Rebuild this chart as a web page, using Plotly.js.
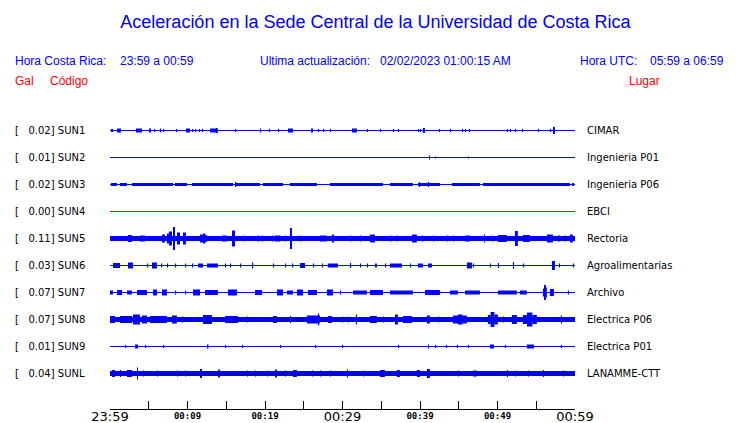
<!DOCTYPE html>
<html><head><meta charset="utf-8">
<script src="https://cdn.plot.ly/plotly-3.0.1.min.js"></script>
<style>html,body{margin:0;padding:0;background:#fff}</style>
</head><body><div id="chart" style="width:740px;height:423px"></div>
<script>
// ---- data ----
const stations = ['SUN1','SUN2','SUN3','SUN4','SUN5','SUN6','SUN7','SUN8','SUN9','SUNL'];
const places = ['CIMAR','Ingenieria P01','Ingenieria P06','EBCI','Rectoria','Agroalimentarias','Archivo','Electrica P06','Electrica P01','LANAMME-CTT'];
const peakGal = ['0.02','0.01','0.02','0.00','0.11','0.03','0.07','0.07','0.01','0.04'];
// background noise half-amplitude (relative units, row half-height = 13.5)
const baseAmp = [0.5,0.5,0.5,0.5,2.5,0.5,0.5,2.5,0.5,2.5];
const traceColors = ['#0000ff','#0000ff','#0000ff','#ff0000','#0000ff','#0000ff','#0000ff','#0000ff','#0000ff','#0000ff'];
// time axis: minutes after 23:59
const tickVals = [0,5,10,15,20,25,30,35,40,45,50,55,60];
const tickLabels = ['23:59','','00:09','','00:19','','00:29','','00:39','','00:49','','00:59'];
const bigTicks = ['23:59','00:29','00:59'];

// events: [start min, end min, half-amplitude]
const sun1Events = [[0.13,0.39,1.5],[0.90,1.42,2],[3.35,4.13,2],[5.03,5.29,2],[5.68,5.83,1.5],[6.45,6.6,2],[6.84,6.99,1.5],[8.51,8.66,1.5],[9.80,10.32,2],[10.58,10.73,1.5],[10.97,11.12,1.5],[11.48,11.63,1.5],[11.87,12.02,1.5],[12.90,13.93,2],[13.67,13.82,2.5],[16.13,16.28,1.5],[19.35,19.5,2],[20.51,20.66,1.5],[21.67,21.82,1.5],[22.96,23.61,2],[25.93,26.19,2],[26.83,26.98,1.5],[27.48,27.63,1.5],[28.38,28.53,1.5],[31.22,31.86,2],[33.15,33.3,1.5],[34.83,34.98,1.5],[36.51,36.66,1.5],[37.15,37.3,1.5],[39.73,39.88,1.5],[39.99,40.14,1.5],[40.38,40.64,2.5],[42.44,42.59,1.5],[43.86,44.01,1.5],[45.41,45.56,1.5],[45.80,45.95,1.5],[46.31,46.46,1.5],[51.21,51.36,1.5],[51.60,51.75,1.5],[52.25,52.4,1.5],[53.15,53.3,1.5],[55.21,55.36,1.5],[56.76,56.91,1.5],[57.15,57.41,3.5]];
const sun2Events = [[41.15,41.3,2],[41.93,42.08,1],[46.18,46.33,1]];
const sun3Events = [[0.13,0.90,1.5],[1.29,2.19,1.5],[2.84,8.13,1.5],[8.39,9.93,1.5],[10.58,15.87,1.5],[16.13,19.35,1.5],[19.74,22.32,1.5],[23.22,26.70,1.5],[28.38,33.54,1.5],[33.54,35.22,1.5],[36.12,39.09,1.5],[39.73,42.57,1.5],[44.12,47.73,1.5],[48.12,59.34,1.5],[59.60,59.86,1.5],[16.13,16.28,2.5],[39.86,40.01,2.5],[41.02,41.17,2.5]];
const sun4Events = [];
const sun5Events = [[2.32,2.84,3.5],[3.87,4.52,3],[6.71,7.10,4],[7.35,7.6,5],[7.6,8.0,7],[8.13,8.39,11.5],[8.64,9.03,6],[9.42,9.80,6],[11.61,12.0,4],[12.0,12.3,5],[12.3,12.51,3.5],[14.45,15.09,3],[15.74,16.13,8],[17.16,17.3,3],[19.09,19.25,3],[19.61,19.75,3],[20.90,21.05,3],[21.29,21.93,3],[22.58,22.72,3],[23.22,23.48,10.5],[24.51,24.65,3],[27.09,27.99,3],[28.64,28.90,4],[30.96,31.1,3],[32.25,32.4,3],[33.54,34.19,4],[36.12,36.27,3],[37.02,37.17,3],[38.96,39.60,4],[40.25,40.4,3],[41.67,41.82,3],[43.47,43.62,3],[44.25,44.4,3],[45.80,46.44,3],[48.25,48.4,4],[49.28,49.43,3],[50.05,51.21,3.5],[52.25,52.63,7.5],[53.28,54.18,3.5],[56.37,57.15,4],[57.79,58.05,3],[58.70,58.85,3],[59.34,59.73,4]];
const sun6Events = [[0.39,1.29,2.5],[2.32,2.97,3],[4.77,4.92,2],[5.42,6.06,3],[6.58,6.73,2],[7.35,7.5,2],[8.39,8.54,2],[9.68,9.83,2],[10.58,10.73,2],[11.35,12.0,2],[12.51,13.93,2],[14.84,14.99,2],[15.48,15.63,2],[16.77,16.92,2],[18.32,18.47,3],[21.03,21.18,2],[22.58,22.73,2],[23.48,23.63,2],[24.51,25.16,2.5],[26.19,26.34,2],[27.35,27.5,2],[28.12,29.41,2],[30.96,31.11,2.5],[32.25,32.4,2],[33.15,33.3,2],[34.19,34.44,2],[35.48,35.63,2],[36.12,37.67,2],[38.7,38.85,2],[39.73,40.38,2],[41.02,41.54,2],[46.05,46.70,3],[46.83,46.98,2],[49.02,49.17,2],[50.05,50.2,2.5],[51.99,52.14,3.5],[53.28,53.43,2],[57.02,57.41,4.5],[57.92,58.07,2],[59.73,59.88,2]];
const sun7Events = [[0.0,0.39,2],[0.90,1.55,2.5],[2.19,2.84,2],[3.48,4.77,2.5],[5.55,6.06,3],[6.71,7.35,3],[8.39,8.54,2],[9.68,9.83,2],[10.71,11.61,3],[12.26,13.93,2.5],[15.22,16.38,3],[18.71,19.61,2.5],[21.54,22.32,3],[22.83,23.61,2],[24.12,24.9,3],[25.54,26.70,2.5],[27.99,28.77,3],[29.67,29.82,2],[31.35,33.15,2],[33.54,35.22,2.5],[36.12,39.09,2],[40.64,42.57,2.5],[43.86,44.89,2],[45.80,47.73,2],[50.05,52.50,2],[52.89,53.79,2],[55.86,56.0,4],[56.0,56.25,7.5],[56.25,56.37,5],[56.76,57.28,3.5],[59.08,59.23,2]];
const sun8Events = [[0.0,0.65,3.5],[1.29,2.84,3.5],[2.97,3.87,5],[4.13,4.77,4],[5.16,7.35,3.5],[8.0,8.64,4],[9.29,9.44,3],[12.0,13.16,4.5],[14.84,16.51,3.5],[17.67,17.82,3],[21.03,21.54,3.5],[23.22,23.37,3.5],[25.41,27.09,4],[26.83,26.98,6],[28.12,28.64,3.5],[29.93,30.08,3],[30.70,30.85,3],[31.73,31.88,5],[33.54,34.44,3.5],[35.22,35.37,3],[36.77,37.15,5],[37.80,38.96,3.5],[40.89,41.28,4],[42.31,42.46,3],[44.25,44.9,4],[44.9,45.5,5],[45.5,46.05,4],[48.76,49.1,4.5],[49.1,49.6,7.5],[49.6,50.05,5],[50.70,50.85,3],[51.86,52.50,4.5],[53.28,53.8,4.5],[53.8,54.5,7],[54.5,55.08,4.5],[58.18,58.33,4]];
const sun9Events = [[1.94,2.09,1.5],[3.23,3.61,2],[4.52,4.67,1.5],[6.84,6.99,1.5],[12.51,12.71,2],[14.84,14.99,1.5],[17.03,17.18,1.5],[21.93,22.08,1.5],[26.45,26.6,1.5],[29.93,30.08,1.5],[37.15,37.3,1.5],[41.02,41.17,2],[41.93,42.08,1.5],[43.34,43.49,1.5],[44.76,44.91,1.5],[46.18,46.33,1.5],[49.02,49.54,2],[50.96,51.11,1.5],[53.79,54.70,2],[58.18,58.33,1.5]];
const sunLEvents = [[0.26,0.65,3.5],[1.29,1.44,3.5],[2.19,2.84,3.5],[3.48,3.61,6],[4.26,4.41,3],[6.06,6.21,3],[8.64,8.79,3],[9.68,9.83,3],[11.61,11.87,4.5],[13.93,14.19,4],[17.67,17.82,3],[18.71,18.86,3],[20.25,20.4,3],[21.29,21.54,4],[22.58,22.73,3],[23.61,24.12,3.5],[26.06,26.21,3],[27.09,27.24,3],[28.38,28.53,3],[30.57,30.72,4],[32.64,32.79,3],[34.83,35.48,3.5],[37.02,37.41,3.5],[39.60,39.99,3.5],[40.89,41.28,4.5],[44.89,45.04,3],[46.83,47.34,3],[51.21,51.36,3.5],[52.25,52.4,3],[53.92,54.07,3],[55.86,56.01,3.5],[58.44,58.59,3]];
const allEvents = [sun1Events,sun2Events,sun3Events,sun4Events,sun5Events,sun6Events,sun7Events,sun8Events,sun9Events,sunLEvents];

// ---- layout geometry ----
const W = 740, H = 423;
const M = {l:110, r:165, t:117, b:14};
const plotW = W - M.l - M.r, plotH = H - M.t - M.b;
const rowH = 27, halfRow = 13.5;
const px2x = px => (px - M.l) / plotW;
const py2y = py => (H - M.b - py) / plotH;

const traces = [];
const layout = {
  width: W, height: H, margin: M,
  paper_bgcolor: '#fff', plot_bgcolor: '#fff',
  showlegend: false, hovermode: false, barmode: 'overlay',
  title: {text: 'Aceleración en la Sede Central de la Universidad de Costa Rica',
    font: {family: 'Liberation Sans, Arial, sans-serif', size: 18, color: '#0000ff'},
    x: 375.5 / W, xanchor: 'center', xref: 'container',
    y: 1 - 22 / H, yanchor: 'middle', yref: 'container'},
  xaxis: {range: [0, 60], anchor: 'free', position: 0, showgrid: false, zeroline: false,
    showline: true, linecolor: '#000', linewidth: 1, ticks: 'inside', ticklen: 8, tickwidth: 1,
    tickcolor: '#000', tickmode: 'array', tickvals: tickVals, ticklabelstandoff: -5,
    ticktext: tickLabels.map(t => bigTicks.includes(t) || t === '' ? t :
      '<span style="font-family:DejaVu Sans Mono;font-size:9px;font-weight:bold;baseline-shift:2px">' + t + '</span>'),
    tickfont: {family: 'DejaVu Sans', size: 13, color: '#000'}, fixedrange: true},
  annotations: []
};

stations.forEach((st, k) => {
  const yName = k === 0 ? 'y' : 'y' + (k + 1);
  const axName = k === 0 ? 'yaxis' : 'yaxis' + (k + 1);
  const top = M.t + rowH * k;
  layout[axName] = {domain: [py2y(top + rowH), py2y(top)], range: [-halfRow, halfRow],
    anchor: 'x', showgrid: false, zeroline: false, showticklabels: false, showline: false,
    ticks: '', fixedrange: true};
  const c = traceColors[k];
  traces.push({type: 'scatter', mode: 'lines', x: [0, 60], y: [0, 0], yaxis: yName,
    line: {color: c, width: 1}});
  if (baseAmp[k] > 0.5) {
    traces.push({type: 'bar', x: [30], width: [60], base: [-baseAmp[k]], y: [2 * baseAmp[k]],
      yaxis: yName, marker: {color: c, line: {width: 0}}});
  }
  const ev = allEvents[k];
  if (ev.length) {
    traces.push({type: 'bar', yaxis: yName,
      x: ev.map(e => (e[0] + e[1]) / 2), width: ev.map(e => e[1] - e[0]),
      base: ev.map(e => -e[2]), y: ev.map(e => 2 * e[2]),
      marker: {color: c, line: {width: 0}}});
  }
  const cy = top + halfRow;
  layout.annotations.push({text: '[\u00a0\u00a0\u00a0' + peakGal[k] + '] ' + st,
    x: px2x(12.5), y: py2y(cy), xref: 'paper', yref: 'paper', xanchor: 'left', yanchor: 'middle',
    showarrow: false, font: {family: 'DejaVu Sans', size: 10, color: '#000'}});
  layout.annotations.push({text: places[k],
    x: px2x(585), y: py2y(cy), xref: 'paper', yref: 'paper', xanchor: 'left', yanchor: 'middle',
    showarrow: false, font: {family: 'DejaVu Sans', size: 10, color: '#000'}});
});

const headerBlue = [['Hora Costa Rica:', 13], ['23:59 a 00:59', 118], ['Ultima actualización:', 258],
  ['02/02/2023 01:00:15 AM', 378], ['Hora UTC:', 578], ['05:59 a 06:59', 648]];
headerBlue.forEach(h => layout.annotations.push({text: h[0], x: px2x(h[1]), y: py2y(61),
  xref: 'paper', yref: 'paper', xanchor: 'left', yanchor: 'middle', showarrow: false,
  font: {family: 'Liberation Sans, Arial, sans-serif', size: 12, color: '#0000ff'}}));
const headerRed = [['Gal', 13], ['Código', 48], ['Lugar', 627]];
headerRed.forEach(h => layout.annotations.push({text: h[0], x: px2x(h[1]), y: py2y(81),
  xref: 'paper', yref: 'paper', xanchor: 'left', yanchor: 'middle', showarrow: false,
  font: {family: 'Liberation Sans, Arial, sans-serif', size: 12, color: '#ff0000'}}));

Plotly.newPlot('chart', traces, layout, {staticPlot: true, displayModeBar: false});
</script></body></html>
